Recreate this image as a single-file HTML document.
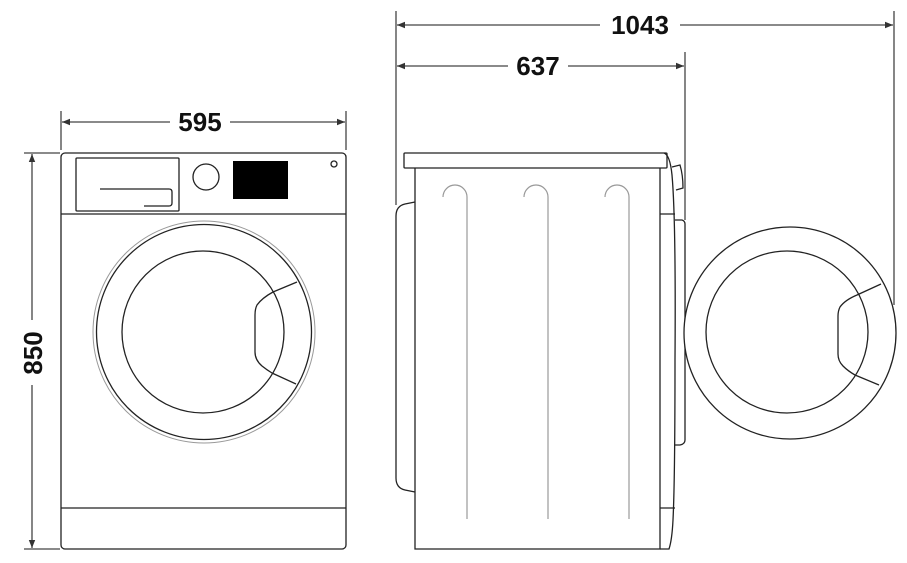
<!DOCTYPE html>
<html><head><meta charset="utf-8"><style>html,body{margin:0;padding:0;background:#fff}svg{display:block}</style></head>
<body>
<svg width="907" height="563" viewBox="0 0 907 563" xmlns="http://www.w3.org/2000/svg">
<defs>
<marker id="a" viewBox="0 0 10 10" refX="10" refY="5" markerWidth="10" markerHeight="8" markerUnits="userSpaceOnUse" orient="auto-start-reverse"><path d="M0,1 L10,5 L0,9 z" fill="#333"/></marker>
</defs>
<g stroke="#444" stroke-width="1.3" fill="none">
<line x1="396" y1="11" x2="396" y2="205"/>
<line x1="894" y1="11" x2="894" y2="305"/>
<line x1="685" y1="52" x2="685" y2="220"/>
<line x1="61" y1="111" x2="61" y2="150"/>
<line x1="346" y1="111" x2="346" y2="150"/>
<line x1="24" y1="153" x2="60" y2="153"/>
<line x1="24" y1="549" x2="60" y2="549"/>
<line x1="397" y1="25" x2="600" y2="25" marker-start="url(#a)"/>
<line x1="680" y1="25" x2="893" y2="25" marker-end="url(#a)"/>
<line x1="397" y1="66" x2="508" y2="66" marker-start="url(#a)"/>
<line x1="568" y1="66" x2="684" y2="66" marker-end="url(#a)"/>
<line x1="62" y1="122" x2="170" y2="122" marker-start="url(#a)"/>
<line x1="230" y1="122" x2="345" y2="122" marker-end="url(#a)"/>
<line x1="32" y1="154" x2="32" y2="320" marker-start="url(#a)"/>
<line x1="32" y1="385" x2="32" y2="548" marker-end="url(#a)"/>
</g>
<g font-family="Liberation Sans, sans-serif" font-weight="bold" font-size="26" fill="#111" text-anchor="middle">
<text x="640" y="34">1043</text>
<text x="538" y="75">637</text>
<text x="200" y="131">595</text>
<text transform="translate(42,353) rotate(-90)">850</text>
</g>
<g stroke="#222" stroke-width="1.3" fill="none">
<rect x="61" y="153" width="285" height="396" rx="4"/>
<line x1="61" y1="214" x2="346" y2="214"/>
<line x1="61" y1="508" x2="346" y2="508"/>
<rect x="76" y="158" width="103" height="53" rx="1"/>
<path d="M100,189 H169 Q172,189 172,192 V203 Q172,206 169,206 H144"/>
<circle cx="206" cy="177" r="13"/>
<circle cx="334" cy="164" r="3"/>
<circle cx="204" cy="332" r="111" stroke="#999" stroke-width="1"/>
<circle cx="204" cy="332" r="107.5"/>
<circle cx="203" cy="332" r="81"/>
<path d="M273,292 L297,282 M273,292 Q262,298 257,305 Q255,309 255,315 V352 Q255,360 262,366 Q267,370 272,373 L296,384"/>
</g>
<rect x="233" y="161" width="55" height="38" fill="#000"/>
<g stroke="#222" stroke-width="1.3" fill="none">
<rect x="404" y="153" width="263" height="15" rx="1"/>
<path d="M415,168 V549 H660 V168"/>
<path d="M660,214 H675 M660,508 H675"/>
<path d="M664,153 Q670,155 672,175 Q676,220 675,360 Q675,480 673,520 Q672,540 669,549 H660"/>
<path d="M672,167 L680,165 Q683,175 683,188 L676,190"/>
<path d="M675,220 H682 Q685,221 685,224 V440 Q685,444 680,445 H675"/>
<path d="M415,202 L405,204 Q396,206 396,216 V478 Q396,488 405,490 L415,492"/>
</g>
<g stroke="#999" stroke-width="1.2" fill="none">
<path d="M443,197 A12,12 0 0 1 467,197 V519"/>
<path d="M524,197 A12,12 0 0 1 548,197 V519"/>
<path d="M605,197 A12,12 0 0 1 629,197 V519"/>
</g>
<g stroke="#222" stroke-width="1.3" fill="#fff">
<circle cx="790" cy="333" r="106"/>
<circle cx="787" cy="332" r="81" fill="none"/>
<path fill="none" d="M857,295 L881,284 M857,295 Q845,300 840,307 Q838,311 838,316 V354 Q838,361 843,366 Q848,371 855,375 L879,385"/>
</g>
</svg>
</body></html>
